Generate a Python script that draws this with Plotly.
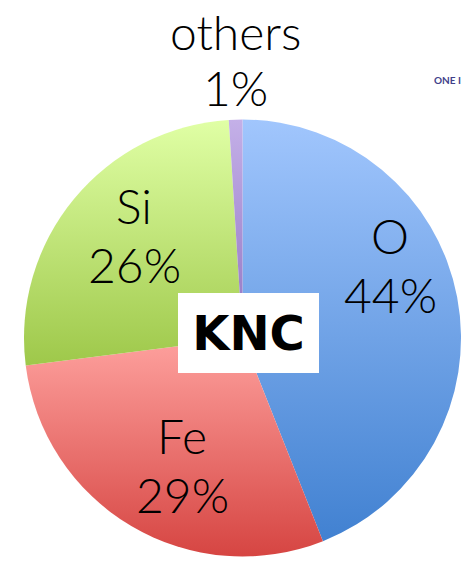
import json
import plotly.graph_objects as go

# ---- data ----
elements = ["O", "Fe", "Si", "others"]
percent = [44, 29, 26, 1]
colors = ["#6fa2e6", "#ea716e", "#bfe277", "#ab93d5"]        # flat fallback
grad_top = ["#a1c6fd", "#fea19e", "#e0ffa5", "#c4b0e8"]      # light end of each slice
grad_bottom = ["#4181d1", "#d64542", "#9ec84a", "#9275c2"]   # dark end of each slice
center_label = "KNC"
corner_text = "ONE I"

W, H = 461, 563


def px(x, y):
    """pixel (from top-left) -> paper coords"""
    return x / W, (H - y) / H


fig = go.Figure()

# pie geometry (pixels)
cx, cy, r = 242.5, 338, 218.5
dom_x = [(cx - r) / W, (cx + r) / W]
dom_y = [(H - cy - r) / H, (H - cy + r) / H]

fig.add_trace(go.Pie(
    labels=elements,
    values=percent,
    sort=False,
    direction="clockwise",
    rotation=0,
    marker=dict(colors=colors, line=dict(width=0)),
    textinfo="none",
    hoverinfo="skip",
    showlegend=False,
    domain=dict(x=dom_x, y=dom_y),
))

font_main = dict(family="Lato", size=48, color="#000000", weight=300)

# label positions (pixel centers of name line and percent line)
label_pos = {
    "O": (390, 236, 294),
    "Fe": (182, 435, 494),
    "Si": (134, 205, 264),
    "others": (235, 31, 88),
}
for name, val in zip(elements, percent):
    x, y1, y2 = label_pos[name]
    ax, ay = px(x, y1)
    fig.add_annotation(x=ax, y=ay, xref="paper", yref="paper", text=name,
                       showarrow=False, xanchor="center", yanchor="middle", font=font_main)
    ax, ay = px(x, y2)
    fig.add_annotation(x=ax, y=ay, xref="paper", yref="paper", text=f"{val}%",
                       showarrow=False, xanchor="center", yanchor="middle", font=font_main)

# center label box
bx, by = px(248.5, 333)
fig.add_annotation(x=bx, y=by, xref="paper", yref="paper", text=f"<b>{center_label}</b>",
                   showarrow=False, xanchor="center", yanchor="middle",
                   width=141, height=80, bgcolor="#ffffff", borderpad=0, borderwidth=0,
                   font=dict(family="DejaVu Sans", size=48, color="#000000"))

# small corner text
tx, ty = px(432, 80)
fig.add_annotation(x=tx, y=ty, xref="paper", yref="paper", text=f"<b>{corner_text}</b>",
                   showarrow=False, xanchor="left", yanchor="middle",
                   font=dict(family="Lato", size=10, color="#41418a"))

fig.update_layout(
    width=W, height=H,
    margin=dict(l=0, r=0, t=0, b=0),
    paper_bgcolor="#ffffff",
    plot_bgcolor="#ffffff",
)

# per-slice vertical gradient fill (light top -> saturated bottom)
post = """
document.body.style.margin='0';
(function(){
  var gd = document.getElementById('{plot_id}');
  var tops = %s, bots = %s;
  var ns = 'http://www.w3.org/2000/svg';
  var svg = gd.querySelector('svg.main-svg');
  if (!svg) return;
  var defs = svg.querySelector('defs');
  if (!defs) { defs = document.createElementNS(ns, 'defs'); svg.insertBefore(defs, svg.firstChild); }
  gd.querySelectorAll('g.slice').forEach(function(g, k){
    var d = g.__data__;
    var i = (d && d.i !== undefined) ? d.i : k;
    var id = 'slicegrad' + i;
    var lg = document.createElementNS(ns, 'linearGradient');
    lg.setAttribute('id', id);
    lg.setAttribute('x1', '0'); lg.setAttribute('y1', '0');
    lg.setAttribute('x2', '0'); lg.setAttribute('y2', '1');
    [[0, tops[i]], [1, bots[i]]].forEach(function(s){
      var st = document.createElementNS(ns, 'stop');
      st.setAttribute('offset', s[0]);
      st.setAttribute('stop-color', s[1]);
      lg.appendChild(st);
    });
    defs.appendChild(lg);
    var p = g.querySelector('path.surface');
    if (p) p.style.fill = 'url(#' + id + ')';
  });
})();
""" % (json.dumps(grad_top), json.dumps(grad_bottom))

fig.write_html("out.html", config={"displayModeBar": False}, post_script=post)
